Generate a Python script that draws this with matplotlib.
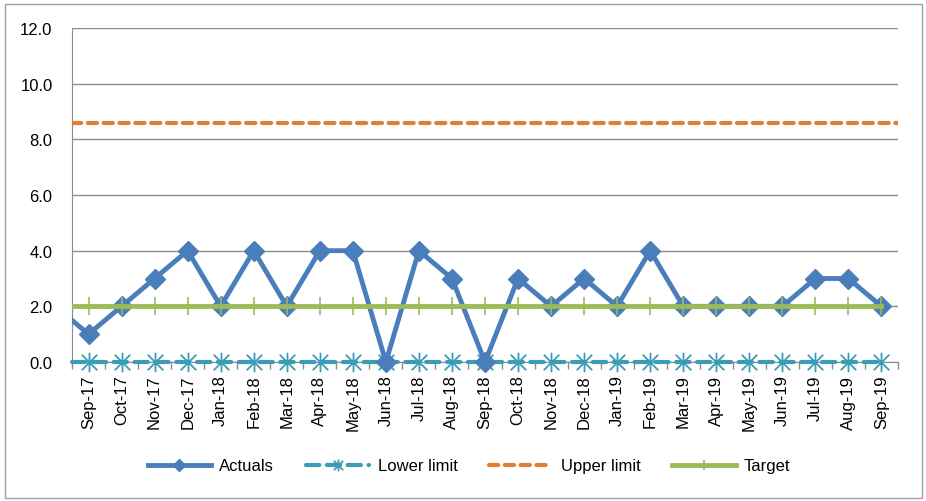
import numpy as np
import matplotlib
matplotlib.use('Agg')
import matplotlib.pyplot as plt
from matplotlib.path import Path
from matplotlib.patches import Rectangle

plt.rcParams['font.family'] = ['Liberation Sans', 'DejaVu Sans']

months = ['Sep-17', 'Oct-17', 'Nov-17', 'Dec-17', 'Jan-18', 'Feb-18', 'Mar-18',
          'Apr-18', 'May-18', 'Jun-18', 'Jul-18', 'Aug-18', 'Sep-18', 'Oct-18',
          'Nov-18', 'Dec-18', 'Jan-19', 'Feb-19', 'Mar-19', 'Apr-19', 'May-19',
          'Jun-19', 'Jul-19', 'Aug-19', 'Sep-19']
actuals = [1, 2, 3, 4, 2, 4, 2, 4, 4, 0, 4, 3, 0, 3, 2, 3, 2, 4, 2, 2, 2, 2, 3, 3, 2]
prev_actual = 2  # month before Sep-17, only its line segment shows
lower_limit = 0.0
upper_limit = 8.6
target = 2.0

n = len(months)
x = np.arange(n)
x_full = np.arange(-1, n)
x_line = np.concatenate([[-0.5], x])

star = Path([(0, -1), (0, 1), (-0.8, -0.8), (0.8, 0.8), (-0.8, 0.8), (0.8, -0.8)],
            [Path.MOVETO, Path.LINETO, Path.MOVETO, Path.LINETO, Path.MOVETO, Path.LINETO])

fig = plt.figure(figsize=(9.26, 5.02), dpi=100)
ax = fig.add_axes([72 / 926, 1 - 363 / 502, (898 - 72) / 926, (363 - 29) / 502])

blue = '#4a7ebb'
teal = '#3b9db5'
orange = '#e07e35'
green = '#9bbb59'
marks = list(range(1, n + 1))

ax.plot(x_line, [lower_limit] * (n + 1), color=teal, lw=3, ls=(0, (3.2, 1.8)),
        marker=star, markevery=marks, ms=14, mew=1.3, clip_on=False,
        label='Lower limit', zorder=3, dash_capstyle='round')
ax.plot(np.concatenate([x_line, [n - 0.5]]), [upper_limit] * (n + 2), color=orange,
        lw=3, ls=(0, (2.2, 1.6)), label='Upper limit', zorder=3, dash_capstyle='round')
ax.plot(x_line, [target] * (n + 1), color=green, lw=3.5, marker='|',
        markevery=marks, ms=13, mew=1.2, label='Target', zorder=5)
act_line, = ax.plot(x_full, [prev_actual] + actuals, color=blue, lw=3.5, marker='D',
                    markevery=marks, ms=10, label='Actuals', zorder=4)
ax.set_xlim(-0.5, n - 0.5)
ax.set_ylim(0, 12)
# hide the segment left of the axis but keep the diamonds at 0 whole
clip_rect = Rectangle((-0.5, -2), n + 1, 16, transform=ax.transData)
act_line.set_clip_path(clip_rect)

ax.set_yticks(np.arange(0, 13, 2))
ax.set_yticklabels([f'{v:.1f}' for v in np.arange(0, 13, 2)], fontsize=12)
ax.yaxis.grid(True, color='#8c8c8c', lw=1)
ax.set_axisbelow(True)
ax.tick_params(axis='y', length=0, pad=14)

ax.set_xticks(x)
ax.set_xticklabels(months, rotation=90, fontsize=12)
ax.tick_params(axis='x', length=0, pad=9)
ax.set_xticks(np.arange(-0.5, n, 1), minor=True)
ax.tick_params(axis='x', which='minor', length=5, color='#8c8c8c', width=1)

for s in ['top', 'right']:
    ax.spines[s].set_visible(False)
ax.spines['left'].set_color('#8c8c8c')
ax.spines['bottom'].set_color('#8c8c8c')

h, l = ax.get_legend_handles_labels()
order = [3, 0, 1, 2]
fig.legend([h[i] for i in order], [l[i] for i in order], loc='center',
           bbox_to_anchor=(469 / 926, 1 - 467 / 502), ncol=4, frameon=False,
           fontsize=12, handlelength=3.8, handletextpad=0.5, columnspacing=1.9,
           markerscale=0.6)

fig.patches.append(Rectangle((5 / 926, 3 / 502), 917 / 926, 494 / 502,
                             transform=fig.transFigure, fill=False,
                             edgecolor='#a0a0a0', lw=1))

fig.savefig('out.png', dpi=100)
